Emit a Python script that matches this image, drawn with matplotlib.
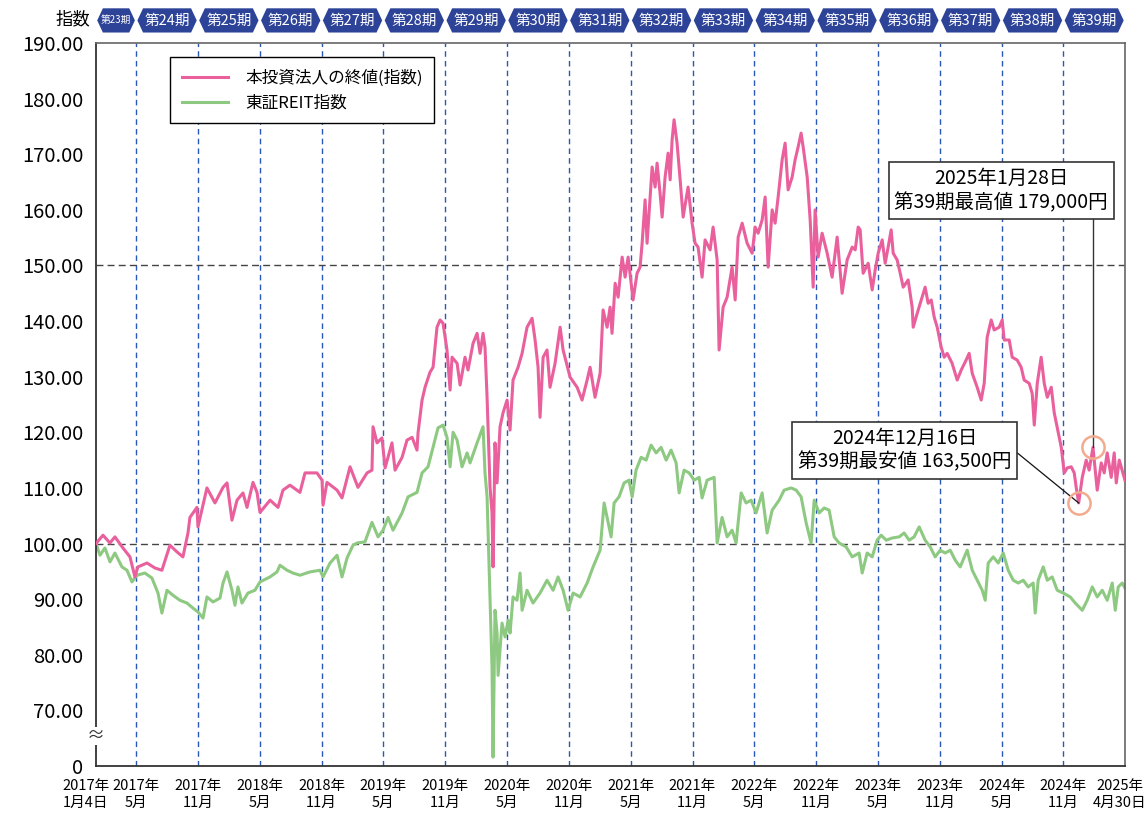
import matplotlib.pyplot as plt
import matplotlib.transforms as mtransforms
from matplotlib.patches import Polygon

plt.rcParams['font.family'] = ['Noto Sans CJK JP', 'DejaVu Sans']

# x: months elapsed since 2017-01-01, y: index (2017-01-04 = 100)
fund_month = [0.1, 0.78, 1.46, 1.94, 2.72, 3.4, 3.88, 4.17, 5.05, 5.83,
              6.5, 7.28, 7.96, 8.54, 9.03, 9.22, 9.9, 10.0, 10.87, 11.65,
              12.43, 12.82, 13.3, 13.79, 14.37, 14.76, 15.34, 15.73, 16.02, 17.0,
              17.77, 18.25, 18.93, 19.9, 20.39, 21.55, 22.04, 22.14, 22.52, 23.5,
              23.98, 24.76, 25.53, 26.41, 26.89, 26.99, 27.38, 27.86, 28.16, 28.83,
              29.13, 29.81, 30.29, 30.78, 31.26, 31.36, 31.75, 32.04, 32.52, 32.82,
              33.2, 33.5, 33.79, 34.17, 34.47, 34.66, 35.15, 35.44, 35.92, 36.21,
              36.7, 37.09, 37.38, 37.67, 37.86, 38.06, 38.35, 38.54, 38.64, 38.83,
              39.03, 39.32, 39.61, 40.0, 40.29, 40.58, 41.07, 41.46, 41.94, 42.43,
              42.72, 43.01, 43.2, 43.5, 43.88, 44.17, 44.66, 45.15, 45.44, 46.12,
              46.8, 47.28, 47.77, 48.06, 48.54, 49.03, 49.32, 49.71, 50.0, 50.19,
              50.49, 50.78, 51.17, 51.46, 51.75, 52.23, 52.62, 52.91, 53.11, 53.4,
              53.59, 54.08, 54.37, 54.56, 54.85, 55.05, 55.34, 55.63, 55.83, 56.02,
              56.21, 56.5, 56.8, 57.09, 57.57, 57.96, 58.25, 58.54, 58.93, 59.22,
              59.71, 60.0, 60.39, 60.58, 60.97, 61.36, 61.84, 62.14, 62.43, 62.82,
              63.3, 63.79, 64.08, 64.37, 64.76, 65.05, 65.34, 65.73, 66.02, 66.31,
              66.7, 66.99, 67.28, 67.67, 67.96, 68.25, 68.54, 68.74, 69.13, 69.42,
              69.71, 69.9, 70.19, 70.58, 71.07, 71.55, 72.04, 72.52, 73.01, 73.5,
              73.79, 74.08, 74.27, 74.56, 75.05, 75.44, 75.73, 76.02, 76.41, 76.7,
              76.99, 77.28, 77.48, 77.86, 78.16, 78.45, 78.93, 79.32, 79.42, 79.81,
              80.29, 80.58, 80.87, 81.17, 81.46, 81.75, 82.14, 82.43, 82.72, 83.2,
              83.69, 84.08, 84.56, 84.85, 85.15, 85.63, 86.02, 86.31, 86.6, 86.99,
              87.28, 87.77, 88.06, 88.25, 88.74, 89.03, 89.51, 89.9, 90.19, 90.68,
              90.97, 91.17, 91.46, 91.84, 92.14, 92.43, 92.82, 93.11, 93.5, 93.79,
              94.08, 94.37, 94.76, 95.05, 95.24, 95.48, 95.83, 96.21, 96.5, 96.87,
              97.18, 97.28, 97.67, 97.96, 98.25, 98.64, 98.93, 99.13, 99.42, 99.97]
fund_index = [100.0, 101.5, 100.1, 101.2, 99.2, 97.6, 94.0, 95.8, 96.5, 95.6,
              95.2, 99.7, 98.5, 97.6, 101.9, 104.7, 106.5, 103.0, 110.0, 107.3,
              110.1, 110.9, 104.2, 107.8, 109.1, 106.5, 111.0, 109.2, 105.6, 107.8,
              106.5, 109.6, 110.5, 109.2, 112.7, 112.7, 111.4, 106.9, 111.0, 109.6,
              108.2, 113.8, 110.1, 112.7, 113.2, 121.0, 118.1, 119.0, 113.6, 118.1,
              113.2, 115.5, 118.6, 119.1, 116.8, 119.9, 125.8, 128.1, 130.8, 131.7,
              138.9, 140.2, 139.6, 134.8, 127.6, 133.5, 132.4, 128.5, 133.5, 131.2,
              136.0, 137.8, 134.2, 137.8, 135.3, 126.3, 110.1, 105.5, 95.8, 118.1,
              110.9, 121.0, 123.5, 125.8, 120.4, 129.4, 131.7, 134.2, 138.9, 140.5,
              136.6, 131.7, 122.7, 133.5, 134.8, 128.1, 132.4, 138.9, 134.8, 129.9,
              128.1, 125.8, 129.4, 131.7, 126.3, 130.6, 142.0, 138.9, 142.5, 137.8,
              146.8, 144.3, 151.5, 147.9, 151.5, 143.8, 148.6, 149.7, 154.0, 161.8,
              154.0, 167.7, 164.1, 168.4, 163.0, 158.7, 165.9, 170.2, 165.4, 172.6,
              176.2, 172.0, 165.4, 158.7, 164.1, 157.6, 154.0, 153.3, 147.9, 154.6,
              152.8, 156.9, 151.0, 134.8, 142.5, 144.3, 149.7, 143.8, 155.1, 157.6,
              154.0, 152.2, 156.9, 155.8, 158.2, 162.3, 149.7, 160.0, 157.6, 162.3,
              169.0, 172.0, 163.6, 165.9, 169.0, 171.3, 173.8, 171.3, 165.9, 158.2,
              146.1, 160.0, 151.5, 155.8, 152.2, 147.9, 155.1, 145.0, 151.0, 153.3,
              152.8, 156.9, 156.4, 148.6, 150.4, 145.6, 149.2, 152.2, 154.6, 150.4,
              153.3, 156.4, 152.2, 151.0, 148.6, 146.1, 147.4, 142.5, 138.9, 141.4,
              144.3, 146.1, 143.2, 143.8, 140.7, 138.9, 135.3, 133.5, 134.2, 132.4,
              129.4, 131.2, 133.0, 134.2, 130.6, 128.1, 125.8, 128.8, 137.1, 140.2,
              138.4, 138.9, 140.2, 136.6, 136.6, 133.5, 133.0, 131.7, 129.4, 128.8,
              127.0, 121.3, 128.8, 133.5, 128.8, 126.3, 128.1, 123.5, 119.9, 117.3,
              112.7, 113.6, 113.8, 112.7, 110.1, 107.3, 111.9, 115.0, 113.2, 117.3,
              111.4, 109.6, 114.5, 112.7, 116.3, 111.9, 116.3, 110.9, 115.0, 111.4]

reit_month = [0.1, 0.49, 0.97, 1.46, 1.94, 2.62, 3.11, 3.59, 4.08, 4.85,
              5.53, 6.12, 6.5, 6.99, 7.57, 8.25, 8.93, 9.51, 10.0, 10.49,
              10.87, 11.46, 12.14, 12.43, 12.82, 13.3, 13.59, 13.88, 14.27, 14.85,
              15.53, 16.02, 16.99, 17.67, 17.96, 18.64, 19.22, 19.9, 20.87, 21.84,
              22.14, 22.82, 23.5, 23.98, 24.47, 25.05, 25.44, 26.21, 26.89, 27.48,
              27.96, 28.45, 28.93, 29.81, 30.39, 31.26, 31.75, 32.33, 32.82, 33.3,
              33.79, 34.17, 34.47, 34.76, 35.15, 35.63, 36.12, 36.41, 37.09, 37.67,
              37.86, 38.06, 38.16, 38.35, 38.54, 38.64, 38.83, 39.03, 39.13, 39.51,
              39.81, 40.1, 40.29, 40.58, 40.97, 41.26, 41.46, 41.94, 42.52, 43.2,
              43.88, 44.47, 44.95, 45.44, 45.92, 46.41, 47.09, 47.77, 48.35, 49.03,
              49.42, 49.71, 50.1, 50.39, 50.87, 51.36, 51.84, 52.14, 52.52, 53.01,
              53.5, 53.98, 54.47, 54.95, 55.44, 55.92, 56.41, 56.7, 57.18, 57.67,
              58.16, 58.64, 58.93, 59.42, 60.1, 60.39, 60.87, 61.36, 61.84, 62.23,
              62.72, 63.2, 63.69, 64.17, 64.76, 65.24, 65.73, 66.41, 66.89, 67.57,
              68.06, 68.54, 69.03, 69.51, 69.81, 70.29, 70.78, 71.26, 71.75, 72.23,
              72.91, 73.5, 74.17, 74.47, 74.95, 75.44, 75.92, 76.31, 76.8, 77.38,
              78.06, 78.54, 79.03, 79.51, 80.0, 80.58, 81.07, 81.55, 82.04, 82.52,
              83.01, 83.5, 83.98, 84.66, 85.15, 85.63, 86.12, 86.41, 86.7, 87.19,
              87.67, 88.16, 88.64, 89.13, 89.61, 90.1, 90.58, 91.07, 91.26, 91.55,
              92.04, 92.43, 92.91, 93.4, 93.98, 94.66, 95.15, 95.83, 96.31, 96.8,
              97.28, 97.77, 98.25, 98.74, 99.03, 99.32, 99.71, 99.97]
# values under 70 sit in the compressed band between "0" and 70
reit_index = [100.0, 97.9, 99.2, 96.7, 98.3, 95.8, 95.2, 93.1, 94.3, 94.7,
              93.8, 91.1, 87.5, 91.6, 90.7, 89.8, 89.3, 88.4, 87.7, 86.6,
              90.4, 89.5, 90.2, 92.9, 94.9, 91.6, 88.9, 92.2, 89.3, 91.1,
              91.6, 93.1, 94.0, 94.9, 96.1, 95.2, 94.7, 94.3, 94.9, 95.2,
              94.0, 96.5, 97.9, 94.0, 97.4, 99.7, 100.1, 100.3, 103.8, 101.2,
              102.4, 104.7, 102.4, 105.5, 108.4, 109.2, 112.7, 113.8, 117.3, 120.8,
              121.3, 119.1, 113.8, 120.0, 118.6, 113.8, 116.3, 114.5, 118.1, 121.0,
              112.7, 108.4, 101.9, 89.8, 77.8, 61.6, 88.0, 83.9, 76.3, 85.7,
              83.2, 86.2, 83.9, 90.4, 89.8, 94.7, 88.0, 91.6, 89.3, 91.1,
              93.4, 91.6, 94.0, 91.6, 88.0, 91.1, 90.4, 92.9, 95.8, 98.8,
              107.3, 104.7, 101.2, 107.3, 108.4, 110.9, 111.4, 108.4, 113.2, 115.5,
              115.0, 117.7, 116.3, 117.3, 115.0, 116.8, 114.5, 109.1, 113.2, 112.7,
              111.4, 111.9, 108.2, 111.4, 111.9, 100.1, 104.7, 101.2, 102.4, 100.1,
              109.1, 107.3, 107.8, 105.5, 109.1, 101.9, 106.0, 107.8, 109.6, 110.0,
              109.6, 108.4, 103.7, 100.1, 107.8, 105.5, 106.4, 106.0, 101.2, 100.1,
              99.4, 97.6, 98.3, 94.7, 98.3, 97.6, 100.6, 101.5, 100.6, 101.0,
              101.2, 101.9, 100.6, 101.2, 103.0, 100.6, 99.4, 97.6, 98.8, 98.3,
              98.8, 97.0, 95.8, 98.8, 95.2, 93.4, 91.6, 89.8, 96.5, 97.6,
              96.5, 98.3, 95.2, 93.4, 92.9, 93.4, 92.2, 92.9, 87.5, 93.4,
              95.8, 93.4, 94.0, 91.6, 91.1, 90.4, 89.3, 88.0, 89.8, 92.2,
              90.4, 91.6, 89.8, 92.9, 88.0, 92.2, 92.9, 92.0]

period_edges = [0.1, 4, 10, 16, 22, 28, 34, 40, 46, 52, 58, 64, 70, 76, 82, 88, 94, 99.97]
period_names = ['第23期', '第24期', '第25期', '第26期', '第27期', '第28期', '第29期',
                '第30期', '第31期', '第32期', '第33期', '第34期', '第35期', '第36期',
                '第37期', '第38期', '第39期']
x_labels = ['2017年\n1月4日', '2017年\n5月', '2017年\n11月', '2018年\n5月', '2018年\n11月',
            '2019年\n5月', '2019年\n11月', '2020年\n5月', '2020年\n11月', '2021年\n5月',
            '2021年\n11月', '2022年\n5月', '2022年\n11月', '2023年\n5月', '2023年\n11月',
            '2024年\n5月', '2024年\n11月', '2025年\n4月30日']
y_ticks = [60, 70, 80, 90, 100, 110, 120, 130, 140, 150, 160, 170, 180, 190]
y_labels = ['0', '70.00', '80.00', '90.00', '100.00', '110.00', '120.00', '130.00',
            '140.00', '150.00', '160.00', '170.00', '180.00', '190.00']

high_month, high_value = 96.87, 117.3   # 2025/1/28
low_month, low_value = 95.48, 107.3     # 2024/12/16

pink = '#e9609d'
green = '#8dc981'
navy = '#2d4398'

fig = plt.figure(figsize=(11.48, 8.13), dpi=100)
ax = fig.add_axes([0.0836, 0.0578, 0.8963, 0.8893])

for e in period_edges[1:-1]:
    ax.axvline(e, color='#2a58b8', ls=(0, (4, 3)), lw=1, zorder=1)
for h in (100, 150):
    ax.axhline(h, color='#444444', ls=(0, (5, 3)), lw=1, zorder=1)

ax.plot(reit_month, reit_index, color=green, lw=2.2, zorder=2, label='東証REIT指数')
ax.plot(fund_month, fund_index, color=pink, lw=2.2, zorder=3, label='本投資法人の終値(指数)')

ax.set_xlim(0.1, 99.97)
ax.set_ylim(60, 190)
ax.set_xticks(period_edges, x_labels)
ax.set_yticks(y_ticks, y_labels)
ax.tick_params(axis='x', length=0, labelsize=10.5, pad=9)
ax.tick_params(axis='y', length=0, labelsize=14.5, pad=9)
for t in ax.get_xticklabels():
    t.set_linespacing(1.3)
xl = ax.get_xticklabels()
xl[0].set_transform(xl[0].get_transform() + mtransforms.ScaledTranslation(-0.10, 0, fig.dpi_scale_trans))
xl[-1].set_transform(xl[-1].get_transform() + mtransforms.ScaledTranslation(-0.05, 0, fig.dpi_scale_trans))

for side in ('left', 'bottom'):
    ax.spines[side].set_color('#333333')
    ax.spines[side].set_linewidth(1.3)
for side in ('top', 'right'):
    ax.spines[side].set_color('#666666')
    ax.spines[side].set_linewidth(1.2)

# axis break mark between 0 and 70
ax.text(0, 65.4, '≈', transform=ax.get_yaxis_transform(), ha='center', va='center',
        fontsize=13, color='#333333', zorder=6, clip_on=False,
        bbox=dict(fc='white', ec='none', pad=0))

# legend (pink first)
h, l = ax.get_legend_handles_labels()
leg = ax.legend(h[::-1], l[::-1], loc='upper left', bbox_to_anchor=(0.072, 0.98),
                fancybox=False, edgecolor='black', framealpha=1, fontsize=12,
                handlelength=2.8, handletextpad=1.0, borderpad=0.7, labelspacing=0.5,
                borderaxespad=0)
leg.get_frame().set_linewidth(1)

# period banner
xt = ax.get_xaxis_transform()
y_top, y_bot = 1.048, 1.0145
y_mid = (y_top + y_bot) / 2
for i, name in enumerate(period_names):
    x0 = period_edges[i] + 0.12
    x1 = period_edges[i + 1] - 0.12
    d = 0.55
    verts = [(x0, y_mid), (x0 + d, y_top), (x1 - d, y_top), (x1, y_mid), (x1 - d, y_bot), (x0 + d, y_bot)]
    ax.add_patch(Polygon(verts, closed=True, transform=xt, fc=navy, ec='none', clip_on=False))
    ax.text((x0 + x1) / 2, y_mid, name, transform=xt, ha='center', va='center',
            color='white', fontsize=7 if i == 0 else 10.5, clip_on=False)
fig.text(90 / 1148, 1 - 19 / 813, '指数', ha='right', va='center', fontsize=12.5)

# high / low callouts
for mx, my in ((high_month, high_value), (low_month, low_value)):
    ax.plot(mx, my, 'o', ms=16, mfc='none', mec='#f2ab8e', mew=1.8, zorder=5)
ax.plot([high_month, high_month], [high_value, 162], color='#333333', lw=1, zorder=4)
ax.plot([low_month, 88.0], [low_value, 118.6], color='#111111', lw=0.9, zorder=4)
box = dict(boxstyle='square,pad=0.3', fc='white', ec='#333333', lw=1.2)
ax.text(87.96, 163.5, '2025年1月28日\n第39期最高値 179,000円', ha='center', va='center',
        fontsize=14, linespacing=1.2, bbox=box, zorder=7)
ax.text(78.6, 116.8, '2024年12月16日\n第39期最安値 163,500円', ha='center', va='center',
        fontsize=14, linespacing=1.2, bbox=box, zorder=7)

fig.savefig('out.png', dpi=100)
